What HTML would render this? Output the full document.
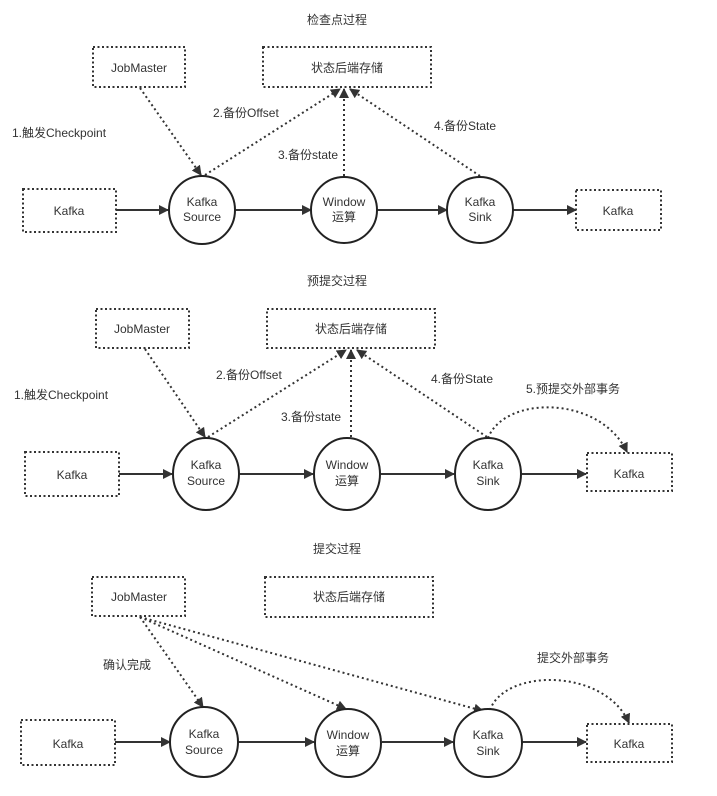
<!DOCTYPE html>
<html><head><meta charset="utf-8"><style>
html,body{margin:0;padding:0;background:#fff;}
svg{display:block;}
text{font-family:"Liberation Sans","Noto Sans CJK SC",sans-serif;font-size:12px;fill:#333;}
.b{fill:none;stroke:#333;stroke-width:2;stroke-dasharray:2 2.5;}
.d{fill:none;stroke:#333;stroke-width:2;stroke-dasharray:2 3;}
.s{fill:none;stroke:#333;stroke-width:2;}
.c{fill:#fff;stroke:#222;stroke-width:2;}
</style></head><body>
<svg width="717" height="796" viewBox="0 0 717 796">
<defs>
<marker id="a" markerWidth="10" markerHeight="10" refX="9" refY="5" orient="auto" markerUnits="userSpaceOnUse"><path d="M0,0 L10,5 L0,10 Z" fill="#333"/></marker>
</defs>
<g text-anchor="middle">
<!-- Section 1 -->
<text x="337" y="24">检查点过程</text>
<rect class="b" x="93" y="47" width="92" height="40"/><text x="139" y="72">JobMaster</text>
<rect class="b" x="263" y="47" width="168" height="40"/><text x="347" y="72">状态后端存储</text>
<rect class="b" x="23" y="189" width="93" height="43"/><text x="69" y="215">Kafka</text>
<rect class="b" x="576" y="190" width="85" height="40"/><text x="618" y="215">Kafka</text>
<line class="s" x1="116" y1="210" x2="168" y2="210" marker-end="url(#a)"/>
<line class="s" x1="235" y1="210" x2="311" y2="210" marker-end="url(#a)"/>
<line class="s" x1="377" y1="210" x2="447" y2="210" marker-end="url(#a)"/>
<line class="s" x1="513" y1="210" x2="576" y2="210" marker-end="url(#a)"/>
<line class="d" x1="140" y1="88" x2="201" y2="175" marker-end="url(#a)"/>
<line class="d" x1="205" y1="175" x2="340" y2="89" marker-end="url(#a)"/>
<line class="d" x1="344" y1="176" x2="344" y2="89" marker-end="url(#a)"/>
<line class="d" x1="480" y1="176" x2="350" y2="89" marker-end="url(#a)"/>
<ellipse class="c" cx="202" cy="210" rx="33" ry="34"/><text x="202" y="206">Kafka</text><text x="202" y="221">Source</text>
<ellipse class="c" cx="344" cy="210" rx="33" ry="33"/><text x="344" y="206">Window</text><text x="344" y="221">运算</text>
<ellipse class="c" cx="480" cy="210" rx="33" ry="33"/><text x="480" y="206">Kafka</text><text x="480" y="221">Sink</text>
<g text-anchor="start">
<text x="12" y="137">1.触发Checkpoint</text>
<text x="213" y="117">2.备份Offset</text>
<text x="278" y="159">3.备份state</text>
<text x="434" y="130">4.备份State</text>
</g>

<!-- Section 2 -->
<text x="337" y="285">预提交过程</text>
<rect class="b" x="96" y="309" width="93" height="39"/><text x="142" y="333">JobMaster</text>
<rect class="b" x="267" y="309" width="168" height="39"/><text x="351" y="333">状态后端存储</text>
<rect class="b" x="25" y="452" width="94" height="44"/><text x="72" y="479">Kafka</text>
<rect class="b" x="587" y="453" width="85" height="38"/><text x="629" y="478">Kafka</text>
<line class="s" x1="119" y1="474" x2="172" y2="474" marker-end="url(#a)"/>
<line class="s" x1="240" y1="474" x2="313" y2="474" marker-end="url(#a)"/>
<line class="s" x1="381" y1="474" x2="454" y2="474" marker-end="url(#a)"/>
<line class="s" x1="522" y1="474" x2="586" y2="474" marker-end="url(#a)"/>
<line class="d" x1="145" y1="349" x2="205" y2="437" marker-end="url(#a)"/>
<line class="d" x1="208" y1="437" x2="346" y2="350" marker-end="url(#a)"/>
<line class="d" x1="351" y1="437" x2="351" y2="350" marker-end="url(#a)"/>
<line class="d" x1="487" y1="437" x2="357" y2="350" marker-end="url(#a)"/>
<path class="d" d="M488,438 C505,395 600,395 627,452" marker-end="url(#a)"/>
<ellipse class="c" cx="206" cy="474" rx="33" ry="36"/><text x="206" y="469">Kafka</text><text x="206" y="485">Source</text>
<ellipse class="c" cx="347" cy="474" rx="33" ry="36"/><text x="347" y="469">Window</text><text x="347" y="485">运算</text>
<ellipse class="c" cx="488" cy="474" rx="33" ry="36"/><text x="488" y="469">Kafka</text><text x="488" y="485">Sink</text>
<g text-anchor="start">
<text x="14" y="399">1.触发Checkpoint</text>
<text x="216" y="379">2.备份Offset</text>
<text x="281" y="421">3.备份state</text>
<text x="431" y="383">4.备份State</text>
<text x="526" y="393">5.预提交外部事务</text>
</g>

<!-- Section 3 -->
<text x="337" y="553">提交过程</text>
<rect class="b" x="92" y="577" width="93" height="39"/><text x="139" y="601">JobMaster</text>
<rect class="b" x="265" y="577" width="168" height="40"/><text x="349" y="601">状态后端存储</text>
<rect class="b" x="21" y="720" width="94" height="45"/><text x="68" y="748">Kafka</text>
<rect class="b" x="587" y="724" width="85" height="38"/><text x="629" y="748">Kafka</text>
<line class="s" x1="115" y1="742" x2="170" y2="742" marker-end="url(#a)"/>
<line class="s" x1="238" y1="742" x2="314" y2="742" marker-end="url(#a)"/>
<line class="s" x1="382" y1="742" x2="453" y2="742" marker-end="url(#a)"/>
<line class="s" x1="522" y1="742" x2="586" y2="742" marker-end="url(#a)"/>
<line class="d" x1="140" y1="617" x2="203" y2="707" marker-end="url(#a)"/>
<line class="d" x1="140" y1="617" x2="346" y2="709" marker-end="url(#a)"/>
<line class="d" x1="140" y1="617" x2="483" y2="711" marker-end="url(#a)"/>
<path class="d" d="M490,710 C505,668 605,668 629,723" marker-end="url(#a)"/>
<ellipse class="c" cx="204" cy="742" rx="34" ry="35"/><text x="204" y="738">Kafka</text><text x="204" y="754">Source</text>
<ellipse class="c" cx="348" cy="743" rx="33" ry="34"/><text x="348" y="739">Window</text><text x="348" y="755">运算</text>
<ellipse class="c" cx="488" cy="743" rx="34" ry="34"/><text x="488" y="739">Kafka</text><text x="488" y="755">Sink</text>
<g text-anchor="start">
<text x="103" y="669">确认完成</text>
<text x="537" y="662">提交外部事务</text>
</g>
</g>
</svg>
</body></html>
